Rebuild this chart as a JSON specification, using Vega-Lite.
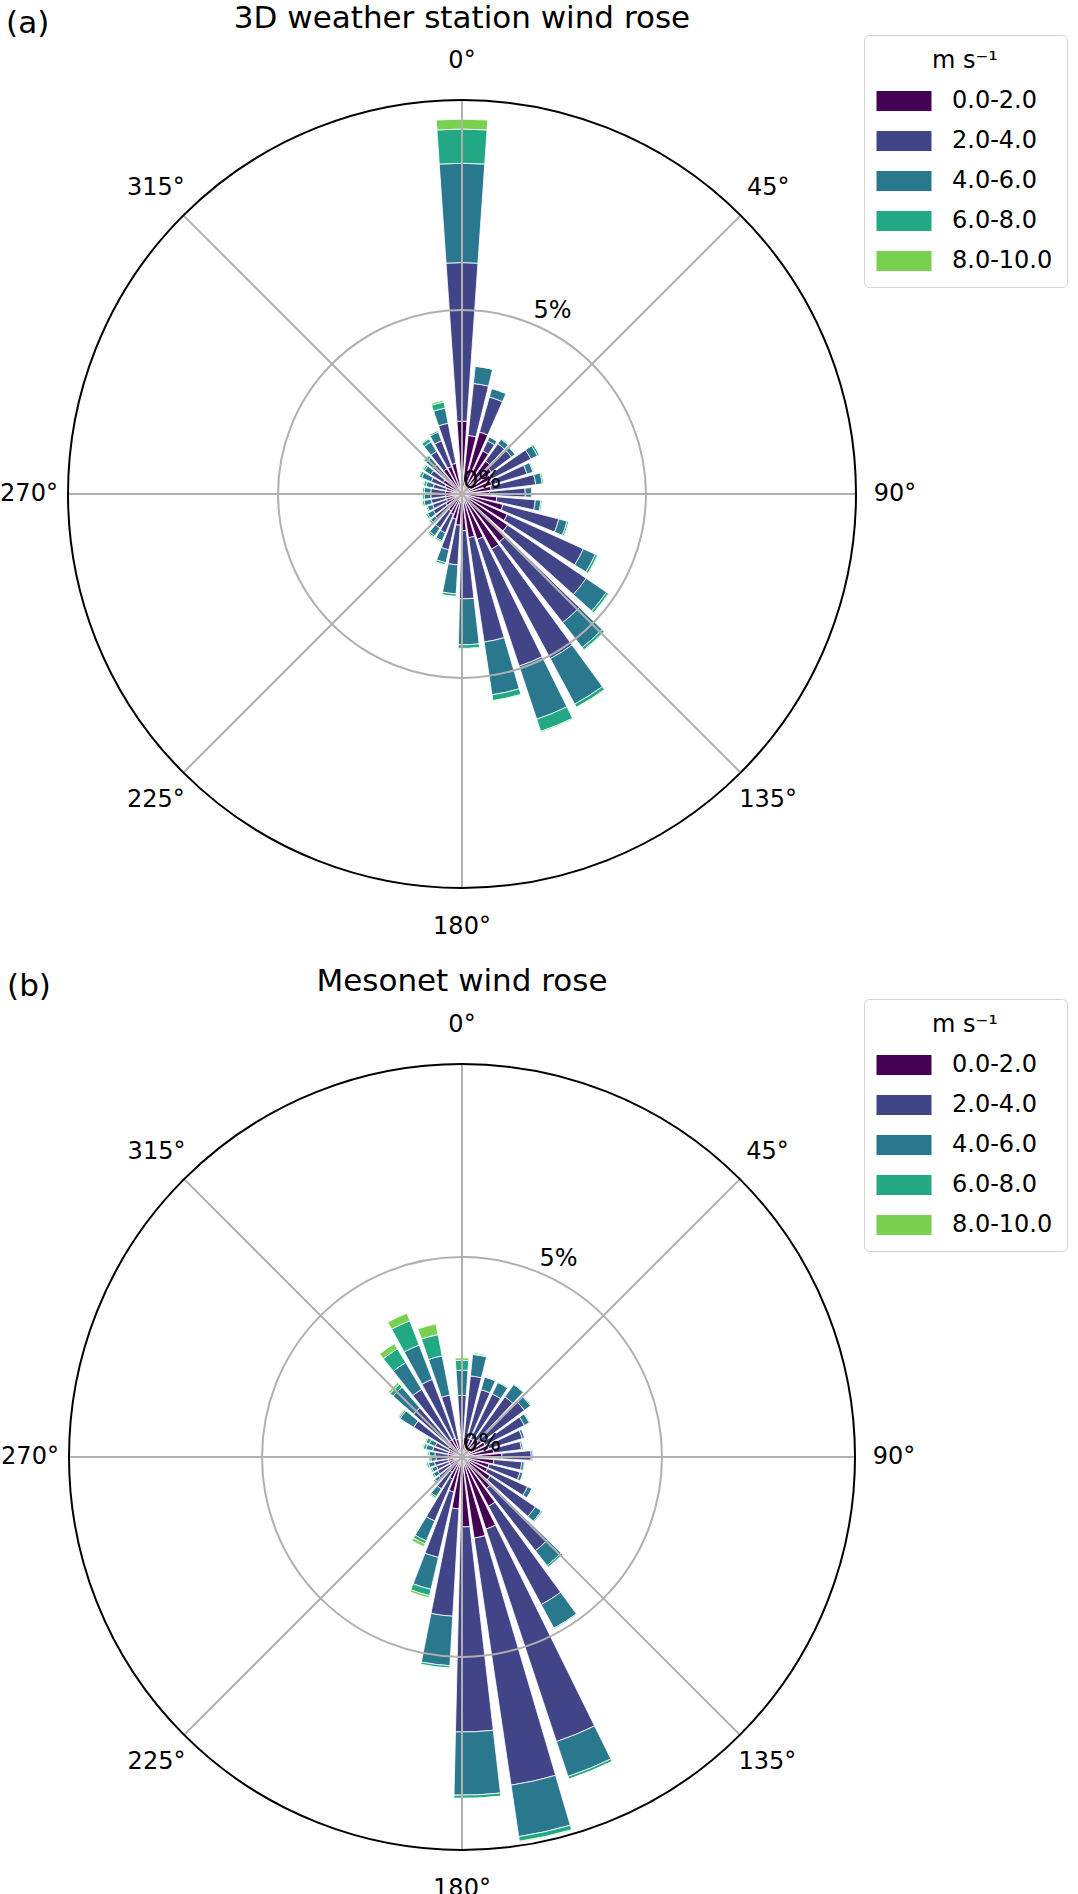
{
  "$schema": "https://vega.github.io/schema/vega-lite/v6.json",
  "description": "Wind roses (a) 3D weather station and (b) Mesonet, frequency by direction and wind speed class.",
  "padding": {"top": 3, "left": 0, "right": 0, "bottom": 0},
  "spacing": 19,
  "datasets": {
    "rose": [
      {"p":"a","dir":0,"speed":"0.0-2.0","pct":1.98},{"p":"a","dir":0,"speed":"2.0-4.0","pct":4.31},{"p":"a","dir":0,"speed":"4.0-6.0","pct":2.70},{"p":"a","dir":0,"speed":"6.0-8.0","pct":0.93},{"p":"a","dir":0,"speed":"8.0-10.0","pct":0.27},
      {"p":"a","dir":10,"speed":"0.0-2.0","pct":1.60},{"p":"a","dir":10,"speed":"2.0-4.0","pct":1.42},{"p":"a","dir":10,"speed":"4.0-6.0","pct":0.47},{"p":"a","dir":10,"speed":"6.0-8.0","pct":0.01},
      {"p":"a","dir":20,"speed":"0.0-2.0","pct":1.75},{"p":"a","dir":20,"speed":"2.0-4.0","pct":0.99},{"p":"a","dir":20,"speed":"4.0-6.0","pct":0.24},{"p":"a","dir":20,"speed":"6.0-8.0","pct":0.01},
      {"p":"a","dir":30,"speed":"0.0-2.0","pct":1.30},{"p":"a","dir":30,"speed":"2.0-4.0","pct":0.30},{"p":"a","dir":30,"speed":"4.0-6.0","pct":0.12},{"p":"a","dir":30,"speed":"6.0-8.0","pct":0.01},
      {"p":"a","dir":40,"speed":"0.0-2.0","pct":1.10},{"p":"a","dir":40,"speed":"2.0-4.0","pct":0.58},{"p":"a","dir":40,"speed":"4.0-6.0","pct":0.15},{"p":"a","dir":40,"speed":"6.0-8.0","pct":0.02},
      {"p":"a","dir":50,"speed":"0.0-2.0","pct":1.00},{"p":"a","dir":50,"speed":"2.0-4.0","pct":0.68},{"p":"a","dir":50,"speed":"4.0-6.0","pct":0.12},{"p":"a","dir":50,"speed":"6.0-8.0","pct":0.01},
      {"p":"a","dir":60,"speed":"0.0-2.0","pct":0.90},{"p":"a","dir":60,"speed":"2.0-4.0","pct":1.20},{"p":"a","dir":60,"speed":"4.0-6.0","pct":0.20},{"p":"a","dir":60,"speed":"6.0-8.0","pct":0.06},{"p":"a","dir":60,"speed":"8.0-10.0","pct":0.02},
      {"p":"a","dir":70,"speed":"0.0-2.0","pct":0.85},{"p":"a","dir":70,"speed":"2.0-4.0","pct":1.00},{"p":"a","dir":70,"speed":"4.0-6.0","pct":0.17},{"p":"a","dir":70,"speed":"6.0-8.0","pct":0.03},{"p":"a","dir":70,"speed":"8.0-10.0","pct":0.01},
      {"p":"a","dir":80,"speed":"0.0-2.0","pct":0.80},{"p":"a","dir":80,"speed":"2.0-4.0","pct":1.22},{"p":"a","dir":80,"speed":"4.0-6.0","pct":0.18},{"p":"a","dir":80,"speed":"6.0-8.0","pct":0.04},{"p":"a","dir":80,"speed":"8.0-10.0","pct":0.02},
      {"p":"a","dir":90,"speed":"0.0-2.0","pct":0.75},{"p":"a","dir":90,"speed":"2.0-4.0","pct":0.97},{"p":"a","dir":90,"speed":"4.0-6.0","pct":0.18},{"p":"a","dir":90,"speed":"6.0-8.0","pct":0.01},
      {"p":"a","dir":100,"speed":"0.0-2.0","pct":0.95},{"p":"a","dir":100,"speed":"2.0-4.0","pct":1.05},{"p":"a","dir":100,"speed":"4.0-6.0","pct":0.15},{"p":"a","dir":100,"speed":"6.0-8.0","pct":0.04},{"p":"a","dir":100,"speed":"8.0-10.0","pct":0.01},
      {"p":"a","dir":110,"speed":"0.0-2.0","pct":1.15},{"p":"a","dir":110,"speed":"2.0-4.0","pct":1.57},{"p":"a","dir":110,"speed":"4.0-6.0","pct":0.23},{"p":"a","dir":110,"speed":"6.0-8.0","pct":0.05},{"p":"a","dir":110,"speed":"8.0-10.0","pct":0.02},
      {"p":"a","dir":120,"speed":"0.0-2.0","pct":1.35},{"p":"a","dir":120,"speed":"2.0-4.0","pct":2.27},{"p":"a","dir":120,"speed":"4.0-6.0","pct":0.36},{"p":"a","dir":120,"speed":"6.0-8.0","pct":0.07},{"p":"a","dir":120,"speed":"8.0-10.0","pct":0.02},
      {"p":"a","dir":130,"speed":"0.0-2.0","pct":1.50},{"p":"a","dir":130,"speed":"2.0-4.0","pct":2.58},{"p":"a","dir":130,"speed":"4.0-6.0","pct":0.67},{"p":"a","dir":130,"speed":"6.0-8.0","pct":0.07},{"p":"a","dir":130,"speed":"8.0-10.0","pct":0.02},
      {"p":"a","dir":140,"speed":"0.0-2.0","pct":1.65},{"p":"a","dir":140,"speed":"2.0-4.0","pct":2.79},{"p":"a","dir":140,"speed":"4.0-6.0","pct":0.86},{"p":"a","dir":140,"speed":"6.0-8.0","pct":0.08},{"p":"a","dir":140,"speed":"8.0-10.0","pct":0.02},
      {"p":"a","dir":150,"speed":"0.0-2.0","pct":1.70},{"p":"a","dir":150,"speed":"2.0-4.0","pct":3.38},{"p":"a","dir":150,"speed":"4.0-6.0","pct":1.40},{"p":"a","dir":150,"speed":"6.0-8.0","pct":0.10},{"p":"a","dir":150,"speed":"8.0-10.0","pct":0.02},
      {"p":"a","dir":160,"speed":"0.0-2.0","pct":1.30},{"p":"a","dir":160,"speed":"2.0-4.0","pct":3.63},{"p":"a","dir":160,"speed":"4.0-6.0","pct":1.52},{"p":"a","dir":160,"speed":"6.0-8.0","pct":0.35},{"p":"a","dir":160,"speed":"8.0-10.0","pct":0.03},
      {"p":"a","dir":170,"speed":"0.0-2.0","pct":1.20},{"p":"a","dir":170,"speed":"2.0-4.0","pct":2.87},{"p":"a","dir":170,"speed":"4.0-6.0","pct":1.45},{"p":"a","dir":170,"speed":"6.0-8.0","pct":0.16},{"p":"a","dir":170,"speed":"8.0-10.0","pct":0.02},
      {"p":"a","dir":180,"speed":"0.0-2.0","pct":1.00},{"p":"a","dir":180,"speed":"2.0-4.0","pct":1.85},{"p":"a","dir":180,"speed":"4.0-6.0","pct":1.25},{"p":"a","dir":180,"speed":"6.0-8.0","pct":0.10},{"p":"a","dir":180,"speed":"8.0-10.0","pct":0.02},
      {"p":"a","dir":190,"speed":"0.0-2.0","pct":0.85},{"p":"a","dir":190,"speed":"2.0-4.0","pct":1.08},{"p":"a","dir":190,"speed":"4.0-6.0","pct":0.79},{"p":"a","dir":190,"speed":"6.0-8.0","pct":0.07},{"p":"a","dir":190,"speed":"8.0-10.0","pct":0.01},
      {"p":"a","dir":200,"speed":"0.0-2.0","pct":0.70},{"p":"a","dir":200,"speed":"2.0-4.0","pct":0.86},{"p":"a","dir":200,"speed":"4.0-6.0","pct":0.36},{"p":"a","dir":200,"speed":"6.0-8.0","pct":0.06},{"p":"a","dir":200,"speed":"8.0-10.0","pct":0.02},
      {"p":"a","dir":210,"speed":"0.0-2.0","pct":0.60},{"p":"a","dir":210,"speed":"2.0-4.0","pct":0.55},{"p":"a","dir":210,"speed":"4.0-6.0","pct":0.23},{"p":"a","dir":210,"speed":"6.0-8.0","pct":0.04},{"p":"a","dir":210,"speed":"8.0-10.0","pct":0.02},
      {"p":"a","dir":220,"speed":"0.0-2.0","pct":0.55},{"p":"a","dir":220,"speed":"2.0-4.0","pct":0.55},{"p":"a","dir":220,"speed":"4.0-6.0","pct":0.25},{"p":"a","dir":220,"speed":"6.0-8.0","pct":0.05},{"p":"a","dir":220,"speed":"8.0-10.0","pct":0.03},
      {"p":"a","dir":230,"speed":"0.0-2.0","pct":0.50},{"p":"a","dir":230,"speed":"2.0-4.0","pct":0.45},{"p":"a","dir":230,"speed":"4.0-6.0","pct":0.15},{"p":"a","dir":230,"speed":"6.0-8.0","pct":0.05},{"p":"a","dir":230,"speed":"8.0-10.0","pct":0.02},
      {"p":"a","dir":240,"speed":"0.0-2.0","pct":0.50},{"p":"a","dir":240,"speed":"2.0-4.0","pct":0.40},{"p":"a","dir":240,"speed":"4.0-6.0","pct":0.18},{"p":"a","dir":240,"speed":"6.0-8.0","pct":0.05},{"p":"a","dir":240,"speed":"8.0-10.0","pct":0.02},
      {"p":"a","dir":250,"speed":"0.0-2.0","pct":0.45},{"p":"a","dir":250,"speed":"2.0-4.0","pct":0.40},{"p":"a","dir":250,"speed":"4.0-6.0","pct":0.15},{"p":"a","dir":250,"speed":"6.0-8.0","pct":0.04},{"p":"a","dir":250,"speed":"8.0-10.0","pct":0.02},
      {"p":"a","dir":260,"speed":"0.0-2.0","pct":0.45},{"p":"a","dir":260,"speed":"2.0-4.0","pct":0.40},{"p":"a","dir":260,"speed":"4.0-6.0","pct":0.20},{"p":"a","dir":260,"speed":"6.0-8.0","pct":0.05},{"p":"a","dir":260,"speed":"8.0-10.0","pct":0.03},
      {"p":"a","dir":270,"speed":"0.0-2.0","pct":0.45},{"p":"a","dir":270,"speed":"2.0-4.0","pct":0.40},{"p":"a","dir":270,"speed":"4.0-6.0","pct":0.18},{"p":"a","dir":270,"speed":"6.0-8.0","pct":0.05},{"p":"a","dir":270,"speed":"8.0-10.0","pct":0.02},
      {"p":"a","dir":280,"speed":"0.0-2.0","pct":0.45},{"p":"a","dir":280,"speed":"2.0-4.0","pct":0.40},{"p":"a","dir":280,"speed":"4.0-6.0","pct":0.18},{"p":"a","dir":280,"speed":"6.0-8.0","pct":0.05},{"p":"a","dir":280,"speed":"8.0-10.0","pct":0.02},
      {"p":"a","dir":290,"speed":"0.0-2.0","pct":0.45},{"p":"a","dir":290,"speed":"2.0-4.0","pct":0.35},{"p":"a","dir":290,"speed":"4.0-6.0","pct":0.20},{"p":"a","dir":290,"speed":"6.0-8.0","pct":0.07},{"p":"a","dir":290,"speed":"8.0-10.0","pct":0.03},
      {"p":"a","dir":300,"speed":"0.0-2.0","pct":0.50},{"p":"a","dir":300,"speed":"2.0-4.0","pct":0.40},{"p":"a","dir":300,"speed":"4.0-6.0","pct":0.28},{"p":"a","dir":300,"speed":"6.0-8.0","pct":0.07},{"p":"a","dir":300,"speed":"8.0-10.0","pct":0.03},
      {"p":"a","dir":310,"speed":"0.0-2.0","pct":0.60},{"p":"a","dir":310,"speed":"2.0-4.0","pct":0.40},{"p":"a","dir":310,"speed":"4.0-6.0","pct":0.20},{"p":"a","dir":310,"speed":"6.0-8.0","pct":0.05},{"p":"a","dir":310,"speed":"8.0-10.0","pct":0.03},
      {"p":"a","dir":320,"speed":"0.0-2.0","pct":0.70},{"p":"a","dir":320,"speed":"2.0-4.0","pct":0.35},{"p":"a","dir":320,"speed":"4.0-6.0","pct":0.25},{"p":"a","dir":320,"speed":"6.0-8.0","pct":0.08},{"p":"a","dir":320,"speed":"8.0-10.0","pct":0.03},
      {"p":"a","dir":330,"speed":"0.0-2.0","pct":0.80},{"p":"a","dir":330,"speed":"2.0-4.0","pct":0.55},{"p":"a","dir":330,"speed":"4.0-6.0","pct":0.30},{"p":"a","dir":330,"speed":"6.0-8.0","pct":0.10},{"p":"a","dir":330,"speed":"8.0-10.0","pct":0.03},
      {"p":"a","dir":340,"speed":"0.0-2.0","pct":0.80},{"p":"a","dir":340,"speed":"2.0-4.0","pct":0.75},{"p":"a","dir":340,"speed":"4.0-6.0","pct":0.25},{"p":"a","dir":340,"speed":"6.0-8.0","pct":0.04},
      {"p":"a","dir":350,"speed":"0.0-2.0","pct":0.85},{"p":"a","dir":350,"speed":"2.0-4.0","pct":1.11},{"p":"a","dir":350,"speed":"4.0-6.0","pct":0.42},{"p":"a","dir":350,"speed":"6.0-8.0","pct":0.17},{"p":"a","dir":350,"speed":"8.0-10.0","pct":0.05},
      {"p":"b","dir":0,"speed":"0.0-2.0","pct":0.45},{"p":"b","dir":0,"speed":"2.0-4.0","pct":1.09},{"p":"b","dir":0,"speed":"4.0-6.0","pct":0.63},{"p":"b","dir":0,"speed":"6.0-8.0","pct":0.25},{"p":"b","dir":0,"speed":"8.0-10.0","pct":0.06},
      {"p":"b","dir":10,"speed":"0.0-2.0","pct":0.50},{"p":"b","dir":10,"speed":"2.0-4.0","pct":1.54},{"p":"b","dir":10,"speed":"4.0-6.0","pct":0.54},{"p":"b","dir":10,"speed":"6.0-8.0","pct":0.02},{"p":"b","dir":10,"speed":"8.0-10.0","pct":0.03},
      {"p":"b","dir":20,"speed":"0.0-2.0","pct":0.50},{"p":"b","dir":20,"speed":"2.0-4.0","pct":1.25},{"p":"b","dir":20,"speed":"4.0-6.0","pct":0.33},{"p":"b","dir":20,"speed":"6.0-8.0","pct":0.02},{"p":"b","dir":20,"speed":"8.0-10.0","pct":0.01},
      {"p":"b","dir":30,"speed":"0.0-2.0","pct":0.50},{"p":"b","dir":30,"speed":"2.0-4.0","pct":1.25},{"p":"b","dir":30,"speed":"4.0-6.0","pct":0.32},{"p":"b","dir":30,"speed":"6.0-8.0","pct":0.02},
      {"p":"b","dir":40,"speed":"0.0-2.0","pct":0.55},{"p":"b","dir":40,"speed":"2.0-4.0","pct":1.30},{"p":"b","dir":40,"speed":"4.0-6.0","pct":0.38},{"p":"b","dir":40,"speed":"6.0-8.0","pct":0.02},{"p":"b","dir":40,"speed":"8.0-10.0","pct":0.01},
      {"p":"b","dir":50,"speed":"0.0-2.0","pct":0.60},{"p":"b","dir":50,"speed":"2.0-4.0","pct":1.35},{"p":"b","dir":50,"speed":"4.0-6.0","pct":0.19},{"p":"b","dir":50,"speed":"6.0-8.0","pct":0.02},
      {"p":"b","dir":60,"speed":"0.0-2.0","pct":0.65},{"p":"b","dir":60,"speed":"2.0-4.0","pct":1.10},{"p":"b","dir":60,"speed":"4.0-6.0","pct":0.14},{"p":"b","dir":60,"speed":"6.0-8.0","pct":0.02},
      {"p":"b","dir":70,"speed":"0.0-2.0","pct":0.70},{"p":"b","dir":70,"speed":"2.0-4.0","pct":0.88},{"p":"b","dir":70,"speed":"4.0-6.0","pct":0.06},{"p":"b","dir":70,"speed":"6.0-8.0","pct":0.01},
      {"p":"b","dir":80,"speed":"0.0-2.0","pct":0.80},{"p":"b","dir":80,"speed":"2.0-4.0","pct":0.70},{"p":"b","dir":80,"speed":"4.0-6.0","pct":0.04},
      {"p":"b","dir":90,"speed":"0.0-2.0","pct":1.00},{"p":"b","dir":90,"speed":"2.0-4.0","pct":0.73},{"p":"b","dir":90,"speed":"4.0-6.0","pct":0.04},
      {"p":"b","dir":100,"speed":"0.0-2.0","pct":0.80},{"p":"b","dir":100,"speed":"2.0-4.0","pct":0.70},{"p":"b","dir":100,"speed":"4.0-6.0","pct":0.06},
      {"p":"b","dir":110,"speed":"0.0-2.0","pct":0.70},{"p":"b","dir":110,"speed":"2.0-4.0","pct":0.80},{"p":"b","dir":110,"speed":"4.0-6.0","pct":0.07},
      {"p":"b","dir":120,"speed":"0.0-2.0","pct":0.70},{"p":"b","dir":120,"speed":"2.0-4.0","pct":1.10},{"p":"b","dir":120,"speed":"4.0-6.0","pct":0.12},{"p":"b","dir":120,"speed":"6.0-8.0","pct":0.01},
      {"p":"b","dir":130,"speed":"0.0-2.0","pct":0.85},{"p":"b","dir":130,"speed":"2.0-4.0","pct":1.37},{"p":"b","dir":130,"speed":"4.0-6.0","pct":0.18},{"p":"b","dir":130,"speed":"6.0-8.0","pct":0.03},
      {"p":"b","dir":140,"speed":"0.0-2.0","pct":1.00},{"p":"b","dir":140,"speed":"2.0-4.0","pct":1.98},{"p":"b","dir":140,"speed":"4.0-6.0","pct":0.47},{"p":"b","dir":140,"speed":"6.0-8.0","pct":0.05},
      {"p":"b","dir":150,"speed":"0.0-2.0","pct":1.40},{"p":"b","dir":150,"speed":"2.0-4.0","pct":2.79},{"p":"b","dir":150,"speed":"4.0-6.0","pct":0.67},{"p":"b","dir":150,"speed":"6.0-8.0","pct":0.02},
      {"p":"b","dir":160,"speed":"0.0-2.0","pct":1.90},{"p":"b","dir":160,"speed":"2.0-4.0","pct":5.60},{"p":"b","dir":160,"speed":"4.0-6.0","pct":0.92},{"p":"b","dir":160,"speed":"6.0-8.0","pct":0.07},{"p":"b","dir":160,"speed":"8.0-10.0","pct":0.01},
      {"p":"b","dir":170,"speed":"0.0-2.0","pct":2.05},{"p":"b","dir":170,"speed":"2.0-4.0","pct":6.25},{"p":"b","dir":170,"speed":"4.0-6.0","pct":1.30},{"p":"b","dir":170,"speed":"6.0-8.0","pct":0.12},{"p":"b","dir":170,"speed":"8.0-10.0","pct":0.02},
      {"p":"b","dir":180,"speed":"0.0-2.0","pct":1.75},{"p":"b","dir":180,"speed":"2.0-4.0","pct":5.13},{"p":"b","dir":180,"speed":"4.0-6.0","pct":1.58},{"p":"b","dir":180,"speed":"6.0-8.0","pct":0.08},{"p":"b","dir":180,"speed":"8.0-10.0","pct":0.01},
      {"p":"b","dir":190,"speed":"0.0-2.0","pct":1.30},{"p":"b","dir":190,"speed":"2.0-4.0","pct":2.69},{"p":"b","dir":190,"speed":"4.0-6.0","pct":1.24},{"p":"b","dir":190,"speed":"6.0-8.0","pct":0.06},{"p":"b","dir":190,"speed":"8.0-10.0","pct":0.01},
      {"p":"b","dir":200,"speed":"0.0-2.0","pct":0.90},{"p":"b","dir":200,"speed":"2.0-4.0","pct":1.68},{"p":"b","dir":200,"speed":"4.0-6.0","pct":0.82},{"p":"b","dir":200,"speed":"6.0-8.0","pct":0.16},{"p":"b","dir":200,"speed":"8.0-10.0","pct":0.06},
      {"p":"b","dir":210,"speed":"0.0-2.0","pct":0.60},{"p":"b","dir":210,"speed":"2.0-4.0","pct":1.14},{"p":"b","dir":210,"speed":"4.0-6.0","pct":0.54},{"p":"b","dir":210,"speed":"6.0-8.0","pct":0.08},{"p":"b","dir":210,"speed":"8.0-10.0","pct":0.08},
      {"p":"b","dir":220,"speed":"0.0-2.0","pct":0.45},{"p":"b","dir":220,"speed":"2.0-4.0","pct":0.50},{"p":"b","dir":220,"speed":"4.0-6.0","pct":0.23},{"p":"b","dir":220,"speed":"6.0-8.0","pct":0.04},{"p":"b","dir":220,"speed":"8.0-10.0","pct":0.03},
      {"p":"b","dir":230,"speed":"0.0-2.0","pct":0.40},{"p":"b","dir":230,"speed":"2.0-4.0","pct":0.35},{"p":"b","dir":230,"speed":"4.0-6.0","pct":0.13},{"p":"b","dir":230,"speed":"6.0-8.0","pct":0.04},{"p":"b","dir":230,"speed":"8.0-10.0","pct":0.02},
      {"p":"b","dir":240,"speed":"0.0-2.0","pct":0.35},{"p":"b","dir":240,"speed":"2.0-4.0","pct":0.35},{"p":"b","dir":240,"speed":"4.0-6.0","pct":0.12},{"p":"b","dir":240,"speed":"6.0-8.0","pct":0.04},{"p":"b","dir":240,"speed":"8.0-10.0","pct":0.02},
      {"p":"b","dir":250,"speed":"0.0-2.0","pct":0.35},{"p":"b","dir":250,"speed":"2.0-4.0","pct":0.33},{"p":"b","dir":250,"speed":"4.0-6.0","pct":0.12},{"p":"b","dir":250,"speed":"6.0-8.0","pct":0.04},{"p":"b","dir":250,"speed":"8.0-10.0","pct":0.02},
      {"p":"b","dir":260,"speed":"0.0-2.0","pct":0.35},{"p":"b","dir":260,"speed":"2.0-4.0","pct":0.35},{"p":"b","dir":260,"speed":"4.0-6.0","pct":0.15},{"p":"b","dir":260,"speed":"6.0-8.0","pct":0.05},{"p":"b","dir":260,"speed":"8.0-10.0","pct":0.02},
      {"p":"b","dir":270,"speed":"0.0-2.0","pct":0.35},{"p":"b","dir":270,"speed":"2.0-4.0","pct":0.30},{"p":"b","dir":270,"speed":"4.0-6.0","pct":0.13},{"p":"b","dir":270,"speed":"6.0-8.0","pct":0.05},{"p":"b","dir":270,"speed":"8.0-10.0","pct":0.02},
      {"p":"b","dir":280,"speed":"0.0-2.0","pct":0.35},{"p":"b","dir":280,"speed":"2.0-4.0","pct":0.33},{"p":"b","dir":280,"speed":"4.0-6.0","pct":0.14},{"p":"b","dir":280,"speed":"6.0-8.0","pct":0.04},{"p":"b","dir":280,"speed":"8.0-10.0","pct":0.02},
      {"p":"b","dir":290,"speed":"0.0-2.0","pct":0.35},{"p":"b","dir":290,"speed":"2.0-4.0","pct":0.40},{"p":"b","dir":290,"speed":"4.0-6.0","pct":0.17},{"p":"b","dir":290,"speed":"6.0-8.0","pct":0.07},{"p":"b","dir":290,"speed":"8.0-10.0","pct":0.03},
      {"p":"b","dir":300,"speed":"0.0-2.0","pct":0.35},{"p":"b","dir":300,"speed":"2.0-4.0","pct":0.37},{"p":"b","dir":300,"speed":"4.0-6.0","pct":0.16},{"p":"b","dir":300,"speed":"6.0-8.0","pct":0.09},{"p":"b","dir":300,"speed":"8.0-10.0","pct":0.03},
      {"p":"b","dir":310,"speed":"0.0-2.0","pct":0.40},{"p":"b","dir":310,"speed":"2.0-4.0","pct":1.02},{"p":"b","dir":310,"speed":"4.0-6.0","pct":0.40},{"p":"b","dir":310,"speed":"6.0-8.0","pct":0.04},{"p":"b","dir":310,"speed":"8.0-10.0","pct":0.03},
      {"p":"b","dir":320,"speed":"0.0-2.0","pct":0.45},{"p":"b","dir":320,"speed":"2.0-4.0","pct":1.17},{"p":"b","dir":320,"speed":"4.0-6.0","pct":0.68},{"p":"b","dir":320,"speed":"6.0-8.0","pct":0.10},{"p":"b","dir":320,"speed":"8.0-10.0","pct":0.06},
      {"p":"b","dir":330,"speed":"0.0-2.0","pct":0.50},{"p":"b","dir":330,"speed":"2.0-4.0","pct":1.47},{"p":"b","dir":330,"speed":"4.0-6.0","pct":0.78},{"p":"b","dir":330,"speed":"6.0-8.0","pct":0.40},{"p":"b","dir":330,"speed":"8.0-10.0","pct":0.15},
      {"p":"b","dir":340,"speed":"0.0-2.0","pct":0.50},{"p":"b","dir":340,"speed":"2.0-4.0","pct":1.58},{"p":"b","dir":340,"speed":"4.0-6.0","pct":0.92},{"p":"b","dir":340,"speed":"6.0-8.0","pct":0.65},{"p":"b","dir":340,"speed":"8.0-10.0","pct":0.20},
      {"p":"b","dir":350,"speed":"0.0-2.0","pct":0.45},{"p":"b","dir":350,"speed":"2.0-4.0","pct":1.13},{"p":"b","dir":350,"speed":"4.0-6.0","pct":1.00},{"p":"b","dir":350,"speed":"6.0-8.0","pct":0.54},{"p":"b","dir":350,"speed":"8.0-10.0","pct":0.27}
    ],
    "spokes": [
      {"a":0,"label":"0°"},{"a":45,"label":"45°"},{"a":90,"label":"90°"},{"a":135,"label":"135°"},
      {"a":180,"label":"180°"},{"a":225,"label":"225°"},{"a":270,"label":"270°"},{"a":315,"label":"315°"}
    ],
    "rings": [
      {"r":0,"label":"0%"},{"r":5,"label":"5%"}
    ]
  },
  "vconcat": [
    {
      "title": {"text": "(a)", "anchor": "start", "offset": -37, "dx": 6},
      "vconcat": [
        {
          "width": 920,
          "height": 906,
          "title": {"text": "3D weather station wind rose", "offset": 6},
          "layer": [
            {
              "data": {"name": "rose"},
              "transform": [
                {"filter": "datum.p === 'a'"},
                {"stack": "pct", "groupby": ["dir"], "sort": [{"field": "speed"}], "as": ["r0", "r1"]},
                {"calculate": "(datum.dir - 4) * 360 / 365.25", "as": "t0"},
                {"calculate": "(datum.dir + 4) * 360 / 365.25", "as": "t1"}
              ],
              "mark": {"type": "arc", "stroke": "white", "strokeWidth": 0.8},
              "encoding": {
                "theta": {"field": "t0", "type": "quantitative", "stack": null, "scale": {"domain": [0, 360], "range": [0, 6.283185307179586]}},
                "theta2": {"field": "t1"},
                "radius": {"field": "r1", "type": "quantitative", "stack": null, "scale": {"type": "linear", "zero": true, "domain": [0, 10.71], "range": [0, 394]}},
                "radius2": {"field": "r0"},
                "color": {
                  "field": "speed",
                  "type": "nominal",
                  "scale": {"domain": ["0.0-2.0", "2.0-4.0", "4.0-6.0", "6.0-8.0", "8.0-10.0"], "range": ["#440154", "#414487", "#2a788e", "#22a884", "#7ad151"]},
                  "legend": {"orient": "none", "legendX": 862, "legendY": -6, "title": "m s⁻¹"}
                },
                "tooltip": [
                  {"field": "dir", "type": "quantitative", "title": "Direction"},
                  {"field": "speed", "type": "nominal", "title": "m s⁻¹"},
                  {"field": "pct", "type": "quantitative", "title": "%"}
                ]
              }
            },
            {
              "data": {"name": "rings"},
              "transform": [{"filter": "datum.r > 0"}],
              "mark": {"type": "arc", "fillOpacity": 0, "stroke": "#b0b0b0", "strokeWidth": 2},
              "encoding": {
                "theta": {"datum": 0},
                "theta2": {"datum": 360},
                "radius": {"field": "r", "type": "quantitative"}
              }
            },
            {
              "data": {"name": "spokes"},
              "mark": {"type": "arc", "fillOpacity": 0, "stroke": "#b0b0b0", "strokeWidth": 2},
              "encoding": {
                "theta": {"field": "a", "type": "quantitative"},
                "theta2": {"field": "a"},
                "radius": {"datum": 10.71}
              }
            },
            {
              "data": {"values": [{}]},
              "mark": {"type": "arc", "fillOpacity": 0, "stroke": "black", "strokeWidth": 2},
              "encoding": {
                "theta": {"datum": 0},
                "theta2": {"datum": 360},
                "radius": {"datum": 10.71}
              }
            },
            {
              "data": {"name": "spokes"},
              "mark": {"type": "text", "radiusOffset": 39, "fontSize": 24, "align": "center", "baseline": "middle"},
              "encoding": {
                "theta": {"field": "a", "type": "quantitative"},
                "radius": {"datum": 10.71},
                "text": {"field": "label"}
              }
            },
            {
              "data": {"name": "rings"},
              "mark": {"type": "text", "fontSize": 24, "align": "left", "baseline": "alphabetic", "dx": 1, "dy": -6},
              "encoding": {
                "theta": {"datum": 22.5},
                "radius": {"field": "r", "type": "quantitative"},
                "text": {"field": "label"}
              }
            }
          ]
        }
      ]
    },
    {
      "title": {"text": "(b)", "anchor": "start", "offset": -37, "dx": 6},
      "vconcat": [
        {
          "width": 920,
          "height": 906,
          "title": {"text": "Mesonet wind rose", "offset": 6},
          "layer": [
            {
              "data": {"name": "rose"},
              "transform": [
                {"filter": "datum.p === 'b'"},
                {"stack": "pct", "groupby": ["dir"], "sort": [{"field": "speed"}], "as": ["r0", "r1"]},
                {"calculate": "(datum.dir - 4) * 360 / 365.25", "as": "t0"},
                {"calculate": "(datum.dir + 4) * 360 / 365.25", "as": "t1"}
              ],
              "mark": {"type": "arc", "stroke": "white", "strokeWidth": 0.8},
              "encoding": {
                "theta": {"field": "t0", "type": "quantitative", "stack": null, "scale": {"domain": [0, 360], "range": [0, 6.283185307179586]}},
                "theta2": {"field": "t1"},
                "radius": {"field": "r1", "type": "quantitative", "stack": null, "scale": {"type": "linear", "zero": true, "domain": [0, 9.83], "range": [0, 393]}},
                "radius2": {"field": "r0"},
                "color": {
                  "field": "speed",
                  "type": "nominal",
                  "scale": {"domain": ["0.0-2.0", "2.0-4.0", "4.0-6.0", "6.0-8.0", "8.0-10.0"], "range": ["#440154", "#414487", "#2a788e", "#22a884", "#7ad151"]},
                  "legend": {"orient": "none", "legendX": 862, "legendY": -5, "title": "m s⁻¹"}
                },
                "tooltip": [
                  {"field": "dir", "type": "quantitative", "title": "Direction"},
                  {"field": "speed", "type": "nominal", "title": "m s⁻¹"},
                  {"field": "pct", "type": "quantitative", "title": "%"}
                ]
              }
            },
            {
              "data": {"name": "rings"},
              "transform": [{"filter": "datum.r > 0"}],
              "mark": {"type": "arc", "fillOpacity": 0, "stroke": "#b0b0b0", "strokeWidth": 2},
              "encoding": {
                "theta": {"datum": 0},
                "theta2": {"datum": 360},
                "radius": {"field": "r", "type": "quantitative"}
              }
            },
            {
              "data": {"name": "spokes"},
              "mark": {"type": "arc", "fillOpacity": 0, "stroke": "#b0b0b0", "strokeWidth": 2},
              "encoding": {
                "theta": {"field": "a", "type": "quantitative"},
                "theta2": {"field": "a"},
                "radius": {"datum": 9.83}
              }
            },
            {
              "data": {"values": [{}]},
              "mark": {"type": "arc", "fillOpacity": 0, "stroke": "black", "strokeWidth": 2},
              "encoding": {
                "theta": {"datum": 0},
                "theta2": {"datum": 360},
                "radius": {"datum": 9.83}
              }
            },
            {
              "data": {"name": "spokes"},
              "mark": {"type": "text", "radiusOffset": 39, "fontSize": 24, "align": "center", "baseline": "middle"},
              "encoding": {
                "theta": {"field": "a", "type": "quantitative"},
                "radius": {"datum": 9.83},
                "text": {"field": "label"}
              }
            },
            {
              "data": {"name": "rings"},
              "mark": {"type": "text", "fontSize": 24, "align": "left", "baseline": "alphabetic", "dx": 1, "dy": -6},
              "encoding": {
                "theta": {"datum": 22.5},
                "radius": {"field": "r", "type": "quantitative"},
                "text": {"field": "label"}
              }
            }
          ]
        }
      ]
    }
  ],
  "resolve": {"scale": {"color": "independent", "theta": "independent", "radius": "independent"}},
  "config": {
    "font": "DejaVu Sans",
    "view": {"stroke": null},
    "title": {"fontSize": 31, "fontWeight": "normal", "color": "black", "font": "DejaVu Sans"},
    "text": {"color": "black"},
    "legend": {
      "titleFontSize": 24,
      "titleFontWeight": "normal",
      "titleColor": "black",
      "titleAnchor": "middle",
      "titlePadding": 16,
      "labelFontSize": 24,
      "labelColor": "black",
      "symbolType": "M-2.75,-1L2.75,-1L2.75,1L-2.75,1Z",
      "symbolSize": 400,
      "symbolStrokeWidth": 0,
      "symbolOpacity": 1,
      "symbolOffset": 14,
      "labelOffset": 36,
      "rowPadding": 16,
      "padding": 14,
      "strokeColor": "#d4d4d4",
      "fillColor": "white",
      "cornerRadius": 5
    }
  }
}
